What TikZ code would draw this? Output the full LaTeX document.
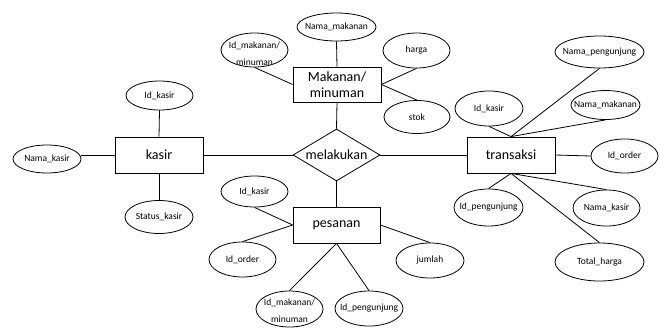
\documentclass[tikz,border=0pt]{standalone}
\usepackage{fontspec}
\setmainfont{Carlito}
\usetikzlibrary{shapes.geometric}
\begin{document}
\begin{tikzpicture}[x=1pt,y=-1pt,line width=0.8pt,
  ent/.style={draw,rectangle,inner sep=0pt,font=\fontsize{14}{16}\selectfont,align=center},
  rel/.style={draw,diamond,aspect=1.67,inner sep=0pt,minimum width=87pt,minimum height=52pt,font=\fontsize{14}{16}\selectfont},
  attr/.style={draw,ellipse,inner sep=0pt},
  lbl/.style={inner sep=0pt,font=\fontsize{9.5}{17}\selectfont,align=center}]
\useasboundingbox (0,0) rectangle (664,327);

% entities and relation
\node[ent,minimum width=88pt,minimum height=36pt] (k) at (159,155) {kasir};
\node[ent,minimum width=88pt,minimum height=35pt] (m) at (337,84.5) {Makanan/\\minuman};
\node[rel] (d) at (336.5,155) {melakukan};
\node[ent,minimum width=87pt,minimum height=36pt] (p) at (336.5,225) {pesanan};
\node[ent,minimum width=88pt,minimum height=36pt] (t) at (511,155) {transaksi};

% attributes of kasir
\node[attr,minimum width=68pt,minimum height=28pt,label={[lbl]center:Nama\_kasir}] (nk1) at (47,159) {};
\node[attr,minimum width=67pt,minimum height=29pt,label={[lbl]center:Id\_kasir}] (ik1) at (159.5,95.5) {};
\node[attr,minimum width=68pt,minimum height=33pt,label={[lbl]center:Status\_kasir}] (sk) at (159,217) {};

% attributes of Makanan/minuman
\node[attr,minimum width=67pt,minimum height=34pt,label={[lbl,yshift=-3.5pt]center:Id\_makanan/\\minuman}] (im1) at (254.5,50) {};
\node[attr,minimum width=79pt,minimum height=28pt,label={[lbl]center:Nama\_makanan}] (nm1) at (336.5,27) {};
\node[attr,minimum width=67pt,minimum height=35pt,label={[lbl]center:harga}] (hg) at (416.5,50.5) {};
\node[attr,minimum width=66pt,minimum height=33pt,label={[lbl]center:stok}] (st) at (417,117) {};

% attributes of transaksi
\node[attr,minimum width=68pt,minimum height=35pt,label={[lbl]center:Id\_kasir}] (ik2) at (489,108.5) {};
\node[attr,minimum width=89pt,minimum height=32pt,label={[lbl]center:Nama\_pengunjung}] (np) at (599.5,52) {};
\node[attr,minimum width=69pt,minimum height=29pt,label={[lbl]center:Nama\_makanan}] (nm2) at (605.5,105) {};
\node[attr,minimum width=67pt,minimum height=34pt,label={[lbl]center:Id\_order}] (io1) at (624.5,156) {};
\node[attr,minimum width=69pt,minimum height=37pt,label={[lbl]center:Id\_pengunjung}] (ipg) at (488.5,207.5) {};
\node[attr,minimum width=67pt,minimum height=36pt,label={[lbl]center:Nama\_kasir}] (nk2) at (606.5,208) {};
\node[attr,minimum width=89pt,minimum height=38pt,label={[lbl]center:Total\_harga}] (th) at (599.5,262) {};

% attributes of pesanan
\node[attr,minimum width=67pt,minimum height=31pt,label={[lbl]center:Id\_kasir}] (ik3) at (254.5,191.5) {};
\node[attr,minimum width=67pt,minimum height=35pt,label={[lbl]center:Id\_order}] (io2) at (242.5,259.5) {};
\node[attr,minimum width=68pt,minimum height=35pt,label={[lbl]center:jumlah}] (jm) at (430,260.5) {};
\node[attr,minimum width=67pt,minimum height=36pt,label={[lbl,yshift=-2pt]center:Id\_makanan/\\minuman}] (im2) at (289.5,309) {};
\node[attr,minimum width=68pt,minimum height=35pt,label={[lbl]center:Id\_pengunjung}] (ip2) at (369,308.5) {};

% connectors
\draw (k.west) -- (k.west -| nk1.east);
\draw (ik1.south) -- (k.north);
\draw (k.south) -- (sk.north);
\draw (k.east) -- (d.west);
\draw (d.east) -- (t.west);
\draw (m.south) -- (d.north);
\draw (d.south) -- (p.north);

\draw (nm1.south) -- (m.north);
\draw (im1.south) -- (m.west);
\draw (m.east) -- (hg.south);
\draw (m.east) -- (st.north);

\draw (ik3.south) -- (p.west);
\draw (p.west) -- (io2.north);
\draw (p.east) -- (jm.north);
\draw (p.south) -- (im2.north);
\draw (p.south) -- (ip2.north);

\draw (t.north) -- (ik2.south);
\draw (t.north) -- (np.south);
\draw (t.north) -- (nm2.south);
\draw (t.east) -- (io1.west);
\draw (t.south) -- (ipg.north);
\draw (t.south) -- (nk2.north);
\draw (t.south) -- (th.north);
\end{tikzpicture}
\end{document}
